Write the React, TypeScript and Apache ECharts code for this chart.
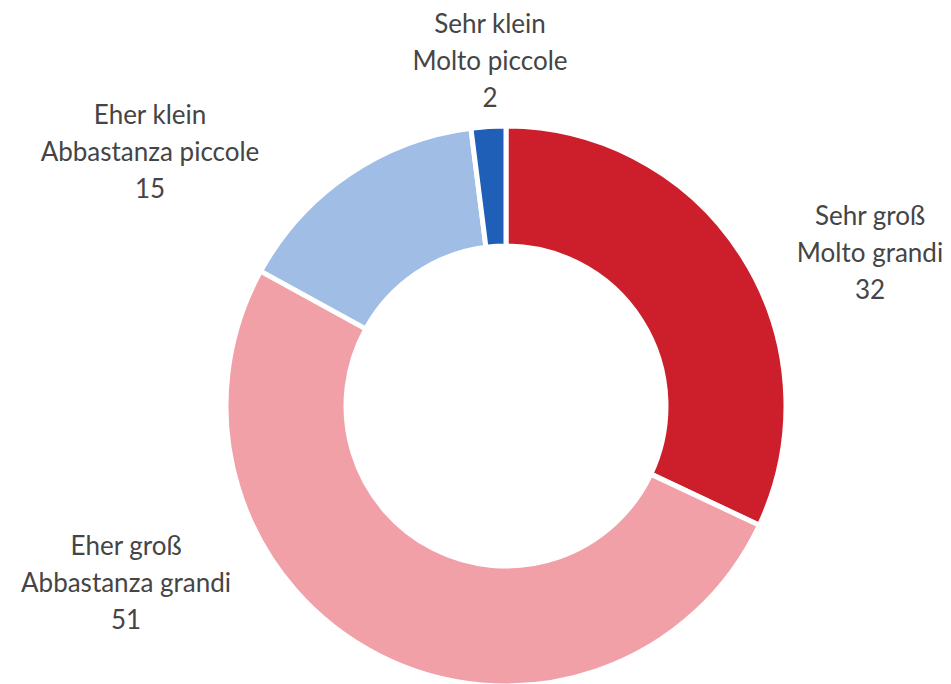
import React, { useEffect, useRef } from "react";
import * as echarts from "echarts";

const germanNames = ["Sehr groß", "Eher groß", "Eher klein", "Sehr klein"];
const italianNames = ["Molto grandi", "Abbastanza grandi", "Abbastanza piccole", "Molto piccole"];
const values = [32, 51, 15, 2];
const colors = ["#cc1f2b", "#f0a0a6", "#a0bde6", "#1f5fb8"];

// label anchor positions (centre of each text block)
const labelPos = [
  [870, 252],
  [126, 582],
  [150, 151],
  [490, 60],
];

export default function App() {
  const ref = useRef<HTMLDivElement>(null);
  useEffect(() => {
    if (!ref.current) return;
    const chart = echarts.init(ref.current, undefined, { renderer: "svg" });
    chart.setOption({
      animation: false,
      backgroundColor: "#ffffff",
      series: [
        {
          type: "pie",
          center: [506, 406],
          radius: [160, 280],
          startAngle: 90,
          clockwise: true,
          avoidLabelOverlap: false,
          itemStyle: { borderColor: "#ffffff", borderWidth: 5 },
          label: {
            show: true,
            position: "outside",
            formatter: (p: any) =>
              `${germanNames[p.dataIndex]}\n${italianNames[p.dataIndex]}\n${p.value}`,
            fontFamily: "Lato",
            fontSize: 26,
            lineHeight: 37,
            color: "#454545",
            align: "center",
          },
          labelLine: { show: false },
          labelLayout: (params: any) => ({
            x: labelPos[params.dataIndex][0],
            y: labelPos[params.dataIndex][1],
            align: "center",
            verticalAlign: "middle",
          }),
          data: values.map((v, i) => ({
            name: germanNames[i],
            value: v,
            itemStyle: { color: colors[i] },
          })),
        },
      ],
    });
    return () => chart.dispose();
  }, []);
  return (
    <div
      ref={ref}
      style={{ position: "fixed", left: 0, top: 0, width: 951, height: 684 }}
    />
  );
}
